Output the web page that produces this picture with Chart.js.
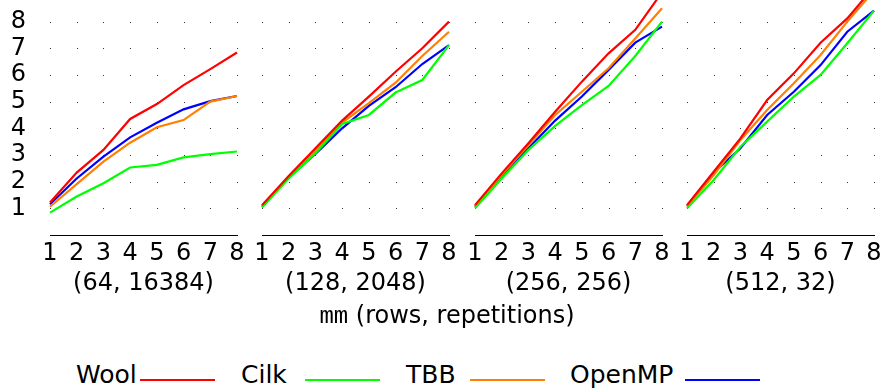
<!DOCTYPE html>
<html>
<head>
<meta charset="utf-8">
<script src="https://cdn.jsdelivr.net/npm/chart.js@4"></script>
<style>
  body { margin: 0; background: #fff; }
  #wrap { position: relative; width: 882px; height: 392px; overflow: hidden; font-family: "DejaVu Sans", sans-serif; color: #000; }
  canvas { position: absolute; top: 0; }
  .txt { position: absolute; white-space: nowrap; }
  .swatch { position: absolute; height: 2px; }
</style>
</head>
<body>
<div id="wrap">
  <canvas id="p0" width="250" height="310" style="left:0px"></canvas>
  <canvas id="p1" width="213" height="310" style="left:249px"></canvas>
  <canvas id="p2" width="213" height="310" style="left:462px"></canvas>
  <canvas id="p3" width="213" height="310" style="left:674px"></canvas>
  <div class="txt" id="xtitle" style="left:247px;width:400px;top:301px;text-align:center;font-size:24px;line-height:28px;">
    <span style="font-family:'Liberation Mono',monospace;">mm</span> (rows, repetitions)
  </div>
  <div id="legend"></div>
</div>
<script>
const xLabels = ['1', '2', '3', '4', '5', '6', '7', '8'];
const yTicks = [1, 2, 3, 4, 5, 6, 7, 8];
const groups = ['(64, 16384)', '(128, 2048)', '(256, 256)', '(512, 32)'];
const seriesNames = ['Wool', 'Cilk', 'TBB', 'OpenMP'];
const seriesColors = ['#ff0000', '#00ff00', '#ff8000', '#0000ff'];

// speedup per thread count, one row per problem size
const wool = [
    [1.22, 2.34, 3.19, 4.35, 4.91, 5.62, 6.22, 6.84],
    [1.12, 2.21, 3.25, 4.29, 5.19, 6.12, 7.00, 8.00],
    [1.12, 2.31, 3.44, 4.62, 5.75, 6.81, 7.69, 9.10],
    [1.12, 2.37, 3.62, 5.06, 6.06, 7.21, 8.12, 9.30]
];
const cilk = [
    [0.84, 1.44, 1.94, 2.53, 2.63, 2.91, 3.03, 3.13],
    [1.03, 2.12, 3.06, 4.16, 4.50, 5.34, 5.81, 7.12],
    [1.00, 2.12, 3.19, 4.09, 4.87, 5.59, 6.71, 8.00],
    [1.00, 2.06, 3.31, 4.25, 5.19, 6.00, 7.19, 8.41]
];
const tbb = [
    [1.06, 1.91, 2.75, 3.46, 4.04, 4.31, 5.00, 5.21],
    [1.06, 2.19, 3.16, 4.21, 4.94, 5.71, 6.71, 7.62],
    [1.06, 2.25, 3.37, 4.50, 5.37, 6.25, 7.37, 8.50],
    [1.06, 2.25, 3.56, 4.69, 5.69, 6.75, 8.00, 9.16]
];
const openmp = [
    [1.15, 2.12, 2.94, 3.66, 4.21, 4.71, 5.02, 5.21],
    [1.06, 2.16, 3.04, 4.00, 4.84, 5.54, 6.41, 7.12],
    [1.06, 2.19, 3.25, 4.29, 5.19, 6.19, 7.21, 7.81],
    [1.09, 2.34, 3.25, 4.50, 5.37, 6.37, 7.62, 8.41]
];
const allSeries = [wool, cilk, tbb, openmp];

const font24 = { family: 'DejaVu Sans', size: 24 };

// little dots at every integer crossing, like the pgfplots grid
const dotGrid = {
    id: 'dotGrid',
    beforeDatasetsDraw(chart) {
        const ctx = chart.ctx;
        const x = chart.scales.x, y = chart.scales.y;
        ctx.save();
        ctx.fillStyle = '#333';
        xLabels.forEach((l, i) => {
            yTicks.forEach(v => {
                ctx.fillRect(Math.round(x.getPixelForValue(i)), Math.round(y.getPixelForValue(v)), 1, 1);
            });
        });
        ctx.restore();
    }
};

function makePanel(idx) {
    const first = idx === 0;
    const ctx = document.getElementById('p' + idx).getContext('2d');
    return new Chart(ctx, {
        type: 'line',
        data: {
            labels: xLabels,
            datasets: seriesNames.map((name, s) => ({
                label: name,
                data: allSeries[s][idx],
                borderColor: seriesColors[s],
                borderWidth: 2.2,
                pointRadius: 0,
                tension: 0,
                fill: false
            }))
        },
        options: {
            responsive: false,
            animation: false,
            layout: { padding: { left: first ? 0 : 13, right: 13, top: 0, bottom: 0 } },
            plugins: { legend: { display: false }, tooltip: { enabled: false } },
            scales: {
                x: {
                    grid: { display: false },
                    border: { display: true, color: '#000', width: 1 },
                    ticks: { color: '#000', font: font24, padding: -4, maxRotation: 0, autoSkip: false },
                    title: { display: true, text: groups[idx], color: '#000', font: font24, padding: { top: 0, bottom: 12 } },
                    afterFit: s => { s.height = 75; s.paddingLeft = 0; s.paddingRight = 0; }
                },
                y: {
                    display: first,
                    min: 0,
                    max: 8.81,
                    grid: { display: false },
                    border: { display: false },
                    ticks: { color: '#000', font: font24, padding: 16 },
                    afterBuildTicks: s => { s.ticks = yTicks.map(v => ({ value: v })); },
                    afterFit: s => {
                        s.width = first ? 50 : 0;
                        s.paddingTop = 0;
                        s.paddingBottom = 0;
                    }
                }
            }
        },
        plugins: [dotGrid]
    });
}

groups.forEach((g, i) => makePanel(i));

// legend: name first, then a short line sample
const legendText = [76, 241, 406, 570];
const legendLine = [140, 305, 470, 685];
const legend = document.getElementById('legend');
seriesNames.forEach((name, s) => {
    const t = document.createElement('div');
    t.className = 'txt';
    t.textContent = name;
    t.style.cssText = `left:${legendText[s]}px;top:361px;font-size:25px;line-height:28px;`;
    legend.appendChild(t);
    const l = document.createElement('div');
    l.className = 'swatch';
    l.style.cssText = `left:${legendLine[s]}px;top:379px;width:75px;background:${seriesColors[s]};`;
    legend.appendChild(l);
});
</script>
</body>
</html>
